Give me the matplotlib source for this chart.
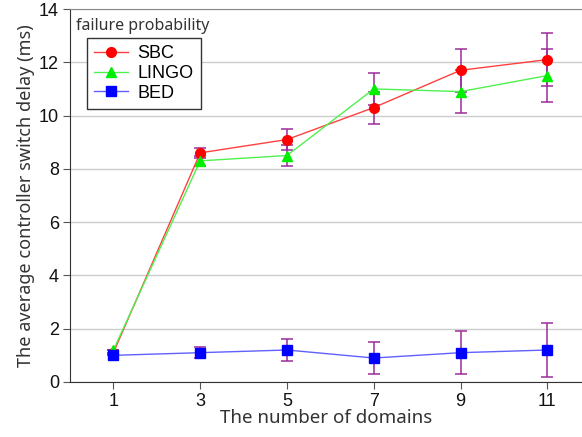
import matplotlib.pyplot as plt

# ============================================================
# Datos
# ============================================================

domains = [1, 3, 5, 7, 9, 11]

sbc_delay = [1.1, 8.6, 9.1, 10.3, 11.7, 12.1]
lingo_delay = [1.2, 8.3, 8.5, 11.0, 10.9, 11.5]
bed_delay = [1.0, 1.1, 1.2, 0.9, 1.1, 1.2]

# error (mismo para las tres series)
delay_err = [0.0, 0.2, 0.4, 0.6, 0.8, 1.0]

y_ticks = [0, 2, 4, 6, 8, 10, 12, 14]

# ============================================================
# Figura
# ============================================================

fig = plt.figure(figsize=(5.82, 4.37), dpi=100)
ax = fig.add_axes([0.1203, 0.1259, 0.8797, 0.8535])

err_color = "#9b2c9b"

series = [
    ("SBC", sbc_delay, "#ff4040", "red", "o", 7),
    ("LINGO", lingo_delay, "#50f050", "#00ee00", "^", 7),
    ("BED", bed_delay, "#6060ff", "blue", "s", 6.5),
]

for name, vals, line_col, mk_col, mk, ms in series:
    ax.errorbar(domains, vals, yerr=delay_err, fmt="none", ecolor=err_color,
                elinewidth=1.1, capsize=4.5, capthick=1.1, zorder=3)
    ax.plot(domains, vals, color=line_col, lw=1.0, marker=mk, markersize=ms,
            markerfacecolor=mk_col, markeredgecolor=mk_col, label=name, zorder=4)

ax.set_xlim(0, 11.8)
ax.set_ylim(0, 14)
ax.set_xticks(domains)
ax.set_yticks(y_ticks)
ax.tick_params(axis="both", labelsize=13, length=5, pad=3, color="#555555",
               labelcolor="#111111")
for lbl in ax.get_xticklabels() + ax.get_yticklabels():
    lbl.set_family("Liberation Sans")

ax.grid(axis="y", color="#cccccc", lw=1.0)
ax.set_axisbelow(True)

ax.spines["right"].set_visible(False)
ax.spines["top"].set_color("#888888")
ax.spines["left"].set_color("#333333")
ax.spines["bottom"].set_color("#333333")

ax.set_xlabel("The number of domains", fontsize=13.5, family="Noto Sans",
              color="#333333", labelpad=-1)
ax.set_ylabel("The average controller switch delay (ms)", fontsize=13,
              family="Noto Sans", color="#333333", labelpad=3)

ax.text(0.012, 0.975, "failure probability", transform=ax.transAxes,
        fontsize=11.5, family="Noto Sans", color="#333333", va="top", ha="left")

leg = ax.legend(loc="upper left", bbox_to_anchor=(0.033, 0.922),
                prop={"family": "Liberation Sans", "size": 13},
                labelspacing=0.15, handlelength=1.9, handletextpad=0.5,
                borderpad=0.4, borderaxespad=0.0, fancybox=False,
                framealpha=1.0)
leg.get_frame().set_edgecolor("#333333")
leg.get_frame().set_linewidth(1.0)

fig.savefig("out.png", dpi=100)
